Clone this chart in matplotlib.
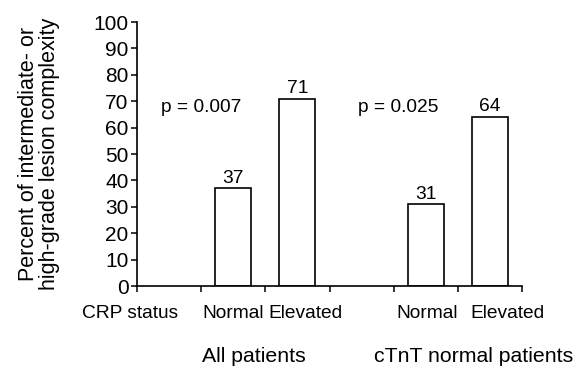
import matplotlib
matplotlib.use("Agg")
import matplotlib.pyplot as plt

plt.rcParams['font.family'] = ['Liberation Sans', 'DejaVu Sans']

# data
categories = ["CRP status", "Normal", "Elevated", "", "Normal", "Elevated"]
groups = ["All patients", "cTnT normal patients"]
bar_categories = ["Normal", "Elevated", "Normal", "Elevated"]
values = [37, 71, 31, 64]
p_values = ["p = 0.007", "p = 0.025"]
yticks = list(range(0, 101, 10))

# layout
bar_pos = [1.5, 2.5, 4.5, 5.5]
label_pos = [-0.11, 1.5, 2.62, 4.52, 5.78]
label_texts = [c for c in categories if c]
group_pos = [1.82, 5.25]
p_pos = [(1.0, 67.8), (4.07, 67.8)]
FS = 13.8

fig = plt.figure(figsize=(5.88, 3.68), dpi=100)
ax = fig.add_axes([137/588, 1-286/368, (522-137)/588, (286-22)/368])

ax.bar(bar_pos, values, width=0.56, color="white", edgecolor="black", linewidth=1.2)
for x, v in zip(bar_pos, values):
    ax.text(x, v + 0.6, str(v), ha="center", va="bottom", fontsize=FS)

for (x, y), t in zip(p_pos, p_values):
    ax.text(x, y, t, ha="center", va="center", fontsize=FS)

ax.set_xlim(0, 6)
ax.set_ylim(0, 100)
ax.set_yticks(yticks)
ax.set_yticklabels([str(t) for t in yticks], fontsize=15)
ax.set_xticks(range(0, 7))
ax.set_xticklabels([])
ax.tick_params(axis="both", direction="out", length=4, width=1.1, pad=2)
for s in ["top", "right"]:
    ax.spines[s].set_visible(False)
for s in ["left", "bottom"]:
    ax.spines[s].set_linewidth(1.2)

trans = ax.get_xaxis_transform()
for x, t in zip(label_pos, label_texts):
    ax.text(x, -0.105, t, ha="center", va="center", fontsize=FS, transform=trans)
for x, t in zip(group_pos, groups):
    ax.text(x, -0.286, t, ha="center", va="baseline", fontsize=15.3, transform=trans)

ax.set_ylabel("Percent of intermediate- or\nhigh-grade lesion complexity", fontsize=15.5, labelpad=24, linespacing=1.0)

fig.savefig("out.png", dpi=100)
